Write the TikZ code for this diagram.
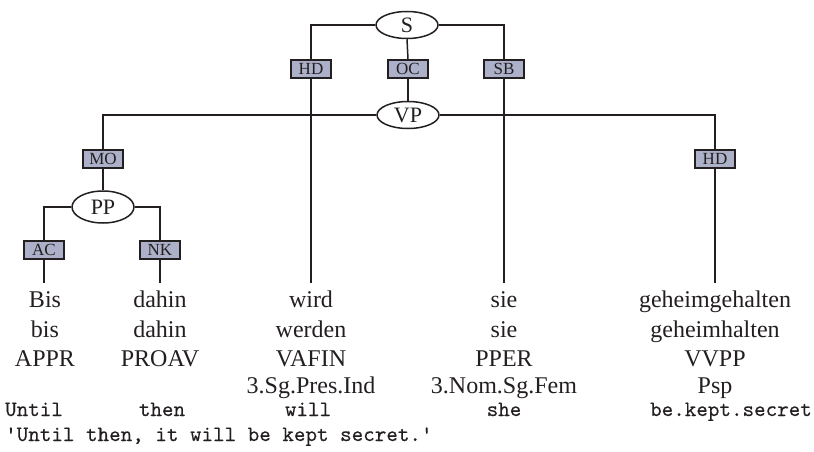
\documentclass[tikz,border=0pt]{standalone}
\usepackage{fontspec}
\setmainfont{Liberation Serif}
\setmonofont{lmmono10-regular.otf}[FakeBold=0.3]
\usetikzlibrary{shapes.geometric}
\definecolor{lab}{RGB}{172,176,200}
\definecolor{ln}{RGB}{35,31,32}
\begin{document}
\begin{tikzpicture}[x=1pt,y=-1pt,
  cat/.style={draw=ln,line width=1.5pt,ellipse,minimum width=62pt,minimum height=27pt,inner sep=0pt,text=ln,font=\fontsize{22}{24}\selectfont},
  lbl/.style={draw=ln,line width=1.5pt,fill=lab,minimum width=40pt,minimum height=18pt,inner sep=0pt,text=ln,font=\fontsize{17}{19}\selectfont},
  wd/.style={anchor=base,inner sep=0pt,text=ln,font=\fontsize{24}{26}\selectfont},
  gl/.style={anchor=base,inner sep=0pt,text=ln,font=\ttfamily\fontsize{22}{24}\selectfont},
  br/.style={draw=ln,line width=1.5pt}]
\useasboundingbox (0,0) rectangle (814,452);

% category and function nodes
\node[cat] (S) at (407,25) {S};
\node[lbl] (hd1) at (311,69) {HD};
\node[lbl] (oc) at (408,69) {OC};
\node[lbl] (sb) at (504,69) {SB};
\node[cat] (VP) at (408,115) {VP};
\node[lbl] (mo) at (103,159) {MO};
\node[lbl] (hd2) at (715,159) {HD};
\node[cat,minimum height=32pt] (PP) at (103,207) {PP};
\node[lbl] (ac) at (44,250) {AC};
\node[lbl] (nk) at (160,250) {NK};

% leaf ends
\coordinate (e1) at (44,283);
\coordinate (e2) at (160,283);
\coordinate (e3) at (311,283);
\coordinate (e4) at (504,283);
\coordinate (e5) at (715,283);

% branches
\draw[br] (S.west) -| (hd1.north);
\draw[br] (S.east) -| (sb.north);
\draw[br] (S.south) -- (oc.north);
\draw[br] (oc.south) -- (VP.north);
\draw[br] (hd1.south) -- (e3);
\draw[br] (sb.south) -- (e4);
\draw[br] (VP.west) -| (mo.north);
\draw[br] (VP.east) -| (hd2.north);
\draw[br] (mo.south) -- (PP.north);
\draw[br] (hd2.south) -- (e5);
\draw[br] (PP.west) -| (ac.north);
\draw[br] (PP.east) -| (nk.north);
\draw[br] (ac.south) -- (e1);
\draw[br] (nk.south) -- (e2);

% words
\node[wd] (w1) at (45,307) {Bis};
\node[wd] (w2) at (160,307) {dahin};
\node[wd] (w3) at (311,307) {wird};
\node[wd] (w4) at (504,307) {sie};
\node[wd] (w5) at (715,307) {geheimgehalten};
% lemmas
\node[wd] (l1) at (45,337) {bis};
\node[wd] (l2) at (160,337) {dahin};
\node[wd] (l3) at (311,337) {werden};
\node[wd] (l4) at (504,337) {sie};
\node[wd] (l5) at (715,337) {geheimhalten};
% POS
\node[wd] (p1) at (45,366) {APPR};
\node[wd] (p2) at (160,366) {PROAV};
\node[wd] (p3) at (311,366) {VAFIN};
\node[wd] (p4) at (504,366) {PPER};
\node[wd] (p5) at (715,366) {VVPP};
% morphology
\node[wd] (m3) at (311,393) {3.Sg.Pres.Ind};
\node[wd] (m4) at (504,393) {3.Nom.Sg.Fem};
\node[wd] (m5) at (715,393) {Psp};
% gloss
\node[gl] (g1) at (34,416) {Until};
\node[gl] (g2) at (162,416) {then};
\node[gl] (g3) at (308,416) {will};
\node[gl] (g4) at (504,416) {she};
\node[gl] (g5) at (731,416) {be.kept.secret};
% translation
\node[gl,anchor=base west] (tr) at (5,441) {'Until then, it will be kept secret.'};
\end{tikzpicture}
\end{document}
